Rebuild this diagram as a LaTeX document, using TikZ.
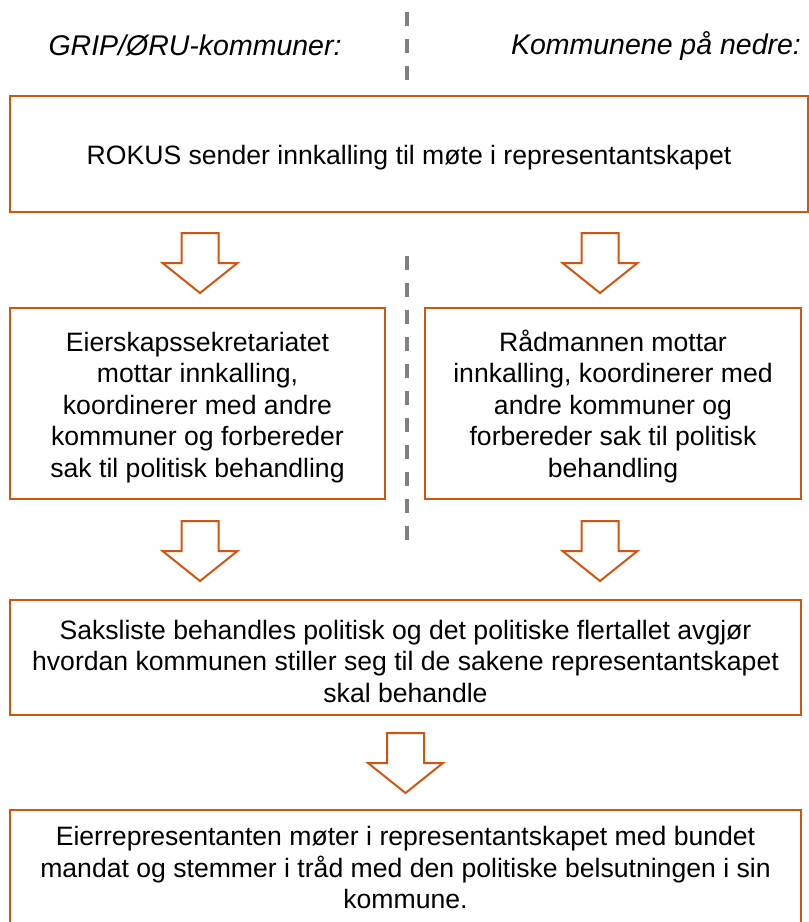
\documentclass[tikz,border=0pt]{standalone}
\usepackage{fontspec}
\setmainfont{Liberation Sans}
\definecolor{boxorange}{RGB}{210,85,15}
\definecolor{dashgrey}{RGB}{128,128,128}
\newcommand\toppad{\rule{0pt}{27pt}}
\tikzset{
  flowbox/.style={draw=boxorange, line width=2pt, fill=white, align=center, inner sep=0pt,
    font=\fontsize{26.6}{31.5}\selectfont},
  header/.style={font=\fontsize{28.5}{32.5}\selectfont\itshape, inner sep=0pt},
  divider/.style={draw=dashgrey, line width=4pt, dash pattern=on 14pt off 13pt},
  downarrow/.pic={\draw[boxorange, line width=2pt, line join=miter, fill=white]
     (-18.5,0) -- (18.5,0) -- (18.5,30) -- (37.5,30) -- (0,60) -- (-37.5,30) -- (-18.5,30) -- cycle;}
}
\begin{document}
\begin{tikzpicture}[x=1pt,y=-1pt]
\useasboundingbox (0,0) rectangle (809,922);
\clip (0,0) rectangle (809,922);
% dividers
\coordinate (d1a) at (407,12);
\coordinate (d1b) at (407,81);
\coordinate (d2a) at (407,256);
\coordinate (d2b) at (407,552);
\draw[divider] (d1a) -- (d1b);
\draw[divider] (d2a) -- (d2b);
% headers
\node[header] (hl) at (195,46) {GRIP/ØRU-kommuner:};
\node[header] (hr) at (656,46) {Kommunene på nedre:};
% boxes
\node[flowbox, line width=2.5pt, minimum width=798pt, minimum height=116pt] (b1) at (409,154)
  {\toppad ROKUS sender innkalling til møte i representantskapet};
\node[flowbox, minimum width=375pt, minimum height=191pt] (b2l) at (197.5,403.5)
  {\toppad Eierskapssekretariatet\\mottar innkalling,\\koordinerer med andre\\kommuner og forbereder\\sak til politisk behandling};
\node[flowbox, minimum width=376pt, minimum height=191pt] (b2r) at (613,403.5)
  {\toppad Rådmannen mottar\\innkalling, koordinerer med\\andre kommuner og\\forbereder sak til politisk\\behandling};
\node[flowbox, minimum width=791pt, minimum height=115pt] (b3) at (405.5,657.5)
  {\toppad Saksliste behandles politisk og det politiske flertallet avgjør\\hvordan kommunen stiller seg til de sakene representantskapet\\skal behandle};
\node[flowbox, minimum width=791pt, minimum height=115pt] (b4) at (405.5,867.5)
  {Eierrepresentanten møter i representantskapet med bundet\\mandat og stemmer i tråd med den politiske belsutningen i sin\\kommune.};
% block arrows
\pic at (200,233) {downarrow};
\pic at (600,233) {downarrow};
\pic at (200,521) {downarrow};
\pic at (600,521) {downarrow};
\pic at (405.5,733) {downarrow};
\end{tikzpicture}
\end{document}
